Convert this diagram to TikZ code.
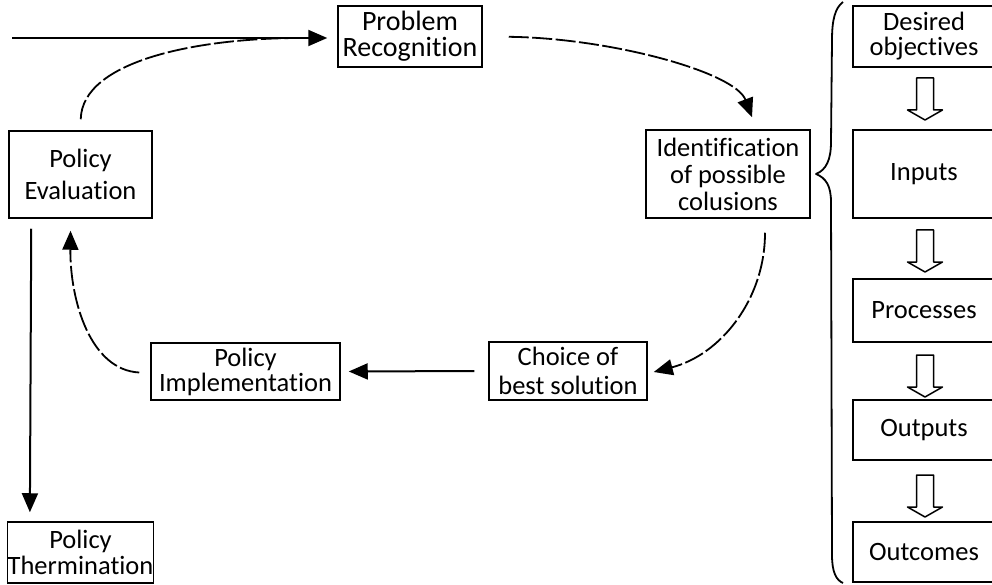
\documentclass[tikz,border=0pt]{standalone}
\usepackage{fontspec}
\setmainfont[Ligatures=NoCommon]{Carlito}
\usetikzlibrary{arrows.meta,calc}
\begin{document}
\begin{tikzpicture}[x=1pt,y=-1pt,
  box/.style={draw, line width=1.5pt, inner sep=0pt, align=center},
  fs/.style={font={\fontsize{26.5}{#1}\selectfont}},
  sline/.style={line width=2pt},
  dline/.style={line width=1.8pt, dash pattern=on 20pt off 3.5pt},
  arr/.style={-{Triangle[length=19pt,width=16pt]}},
  hollowarrow/.pic={\draw[line width=1.5pt, line join=round] (-8.5,0) -- (8.5,0) -- (8.5,32) -- (17.5,32) -- (0,42) -- (-17.5,32) -- (-8.5,32) -- cycle;}
]
\useasboundingbox (0,0) rectangle (992,585);

% cycle nodes
\node[box, font={\fontsize{28}{26}\selectfont}, minimum width=144pt, minimum height=61pt] (prob) at (410,36.5) {Problem\\Recognition};
\node[box, fs=27, minimum width=164pt, minimum height=88pt] (ident) at (728,174) {Identification\\of possible\\colusions};
\node[box, fs=32, minimum width=143pt, minimum height=87pt] (eval) at (80.5,174.5) {Policy\\Evaluation};
\node[box, fs=25, minimum width=189pt, minimum height=57pt] (impl) at (245.5,371.5) {Policy\\Implementation};
\node[box, fs=29, minimum width=158pt, minimum height=58pt] (choice) at (568,371) {Choice of\\best solution};
\node[box, fs=26, minimum width=143pt, minimum height=61pt] (term) at (80.5,552.5) {Policy\\Thermination};

% right column
\node[box, fs=25, minimum width=142pt, minimum height=61pt] (des) at (924,36.5) {Desired\\objectives};
\node[box, fs=27, minimum width=142pt, minimum height=88pt] (inp) at (924,174) {Inputs};
\node[box, fs=27, minimum width=142pt, minimum height=63pt] (proc) at (924,310.5) {Processes};
\node[box, fs=27, minimum width=142pt, minimum height=60pt] (outp) at (924,430) {Outputs};
\node[box, fs=27, minimum width=142pt, minimum height=60pt] (outc) at (924,552) {Outcomes};

\pic at (925,78) {hollowarrow};
\pic at (925,230) {hollowarrow};
\pic at (925,355) {hollowarrow};
\pic at (925,475) {hollowarrow};

% brace
\draw[line width=1.8pt, line join=round]
  (843,2) .. controls (835,8) and (832,20) .. (832,40)
  -- (831,142) .. controls (831,160) and (826,170) .. (816,174)
  .. controls (826,178) and (831,186) .. (831,202)
  -- (832,555) .. controls (832,572) and (836,580) .. (843,583);

% connectors
\coordinate (src) at (12,38);
\coordinate (merge) at (300,38);
\draw[sline, arr, shorten >=10pt] (src) -- (src -| prob.west);
\draw[dline, shorten <=11pt] (eval.north) .. controls (82,60) and (200,38) .. (merge);
\draw[dline, arr, shorten <=26pt] (prob.east) .. controls (610,38) and (735,72) .. ($(ident.north)+(24,-12)$);
\draw[dline, arr] ($(ident.south)+(37,14)$) .. controls (765,300) and (720,355) .. ($(choice.east)+(6,1)$);
\draw[sline, arr, shorten <=14pt, shorten >=8pt] (choice.west) -- (impl.east);
\draw[dline, arr] ($(impl.west)+(-11,1)$) .. controls (90,370) and (70,300) .. ($(eval.south)+(-10,12)$);
\draw[sline, arr] ($(eval.south west)+(23,10)$) -- ($(term.north west)+(23,-9)$);
\end{tikzpicture}
\end{document}
